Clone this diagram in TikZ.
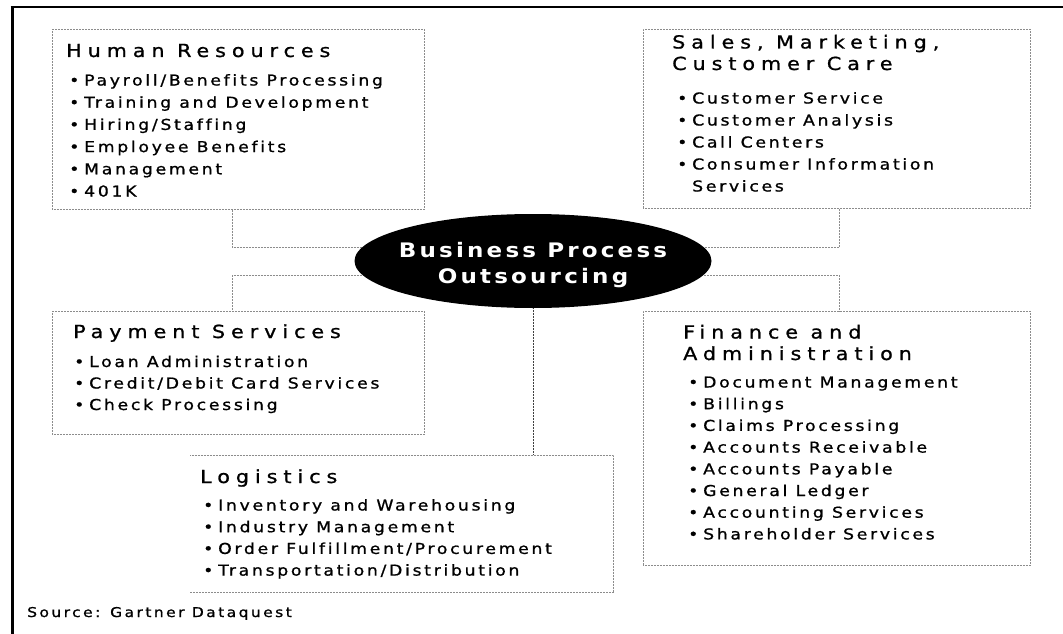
\documentclass[tikz,border=0pt]{standalone}
\usepackage{fontspec}
\usepackage{tikz}
\usetikzlibrary{shapes.geometric,backgrounds}
\setmainfont{DejaVu Sans}
\newfontfamily\headfont{DejaVu Sans}[LetterSpace=33,FakeStretch=1.15,FakeBold=1,Ligatures=NoCommon]
\newfontfamily\itemfont{DejaVu Sans}[LetterSpace=18,FakeStretch=1.15,FakeBold=1,Ligatures=NoCommon]
\newfontfamily\bpofont{DejaVu Sans Bold}[LetterSpace=16,FakeStretch=1.15]
\newcommand{\bul}{\makebox[15pt][l]{\textbullet}}
\newcommand{\ind}{\hspace*{15pt}}

\begin{document}
\begin{tikzpicture}[x=1pt,y=-1pt]
  \tikzstyle{area box}=[rectangle,draw=black!45,densely dotted,line width=0.5pt,inner sep=0,anchor=north west]
  \tikzstyle{head text}=[inner sep=0,anchor=base west,align=left,font=\headfont\fontsize{18}{21.5}\selectfont]
  \tikzstyle{item text}=[inner sep=0,anchor=base west,align=left,font=\itemfont\fontsize{15}{22}\selectfont]
  \tikzstyle{link line}=[draw=black!45,densely dotted,line width=0.5pt]
  \useasboundingbox (0,0) rectangle (1063,634);
  % frame
  \draw[line width=3pt] (12,634) -- (12,7.5);
  \draw[line width=2pt] (10.5,7.5) -- (1063,7.5);
  % areas
  \node[area box,minimum width=372pt,minimum height=180pt] (hr) at (52,29) {};
  \node[area box,minimum width=387pt,minimum height=179pt] (sales) at (643,29) {};
  \node[area box,minimum width=372pt,minimum height=123pt] (pay) at (52,311) {};
  \node[area box,minimum width=387pt,minimum height=254pt] (fin) at (643,311) {};
  \node[area box,draw=none,minimum width=423pt,minimum height=137pt] (logi) at (190,455) {};
  \draw[link line] (logi.north west) -- (logi.north east) -- (logi.south east) -- (logi.south west);
  % center
  \node[ellipse,fill=black,minimum width=357pt,minimum height=94pt,inner sep=0] (bpo) at (533,261) {};
  \node[text=white,align=center,inner sep=0,yshift=-4pt,
    font=\bpofont\fontsize{20}{26}\selectfont] (bpotext) at (bpo.center) {Business Process\\Outsourcing};
  \begin{scope}[on background layer]
    \draw[link line] (232,0 |- hr.south) |- (bpo.center |- 0,247);
    \draw[link line] (232,0 |- pay.north) |- (bpo.center |- 0,275);
    \draw[link line] (839,0 |- sales.south) |- (bpo.center |- 0,247);
    \draw[link line] (839,0 |- fin.north) |- (bpo.center |- 0,275);
    \draw[link line,draw=black!75] (bpo.south) -- (bpo.south |- logi.north);
  \end{scope}
  % texts (base = last line)
  \node[head text] (hrt) at (66,57) {Human Resources};
  \node[item text,font=\itemfont\fontsize{15}{22.2}\selectfont] (hri) at (69,196.5) {\bul Payroll/Benefits Processing\\
    \bul Training and Development\\\bul Hiring/Staffing\\\bul Employee Benefits\\\bul Management\\\bul 401K};
  \node[head text] (salest) at (672,70) {Sales, Marketing,\\Customer Care};
  \node[item text] (salesi) at (677,191.5) {\bul Customer Service\\\bul Customer Analysis\\
    \bul Call Centers\\\bul Consumer Information\\\ind Services};
  \node[head text] (payt) at (73,338) {Payment Services};
  \node[item text,font=\itemfont\fontsize{15}{21.5}\selectfont] (payi) at (74,410) {\bul Loan Administration\\
    \bul Credit/Debit Card Services\\\bul Check Processing};
  \node[head text] (fint) at (683,360) {Finance and\\Administration};
  \node[item text,font=\itemfont\fontsize{15}{21.7}\selectfont] (fini) at (688,539.4) {\bul Document Management\\
    \bul Billings\\\bul Claims Processing\\\bul Accounts Receivable\\\bul Accounts Payable\\\bul General Ledger\\
    \bul Accounting Services\\\bul Shareholder Services};
  \node[head text] (logit) at (200,483) {Logistics};
  \node[item text,font=\itemfont\fontsize{15}{21.7}\selectfont] (logii) at (203,575.6) {\bul Inventory and Warehousing\\
    \bul Industry Management\\\bul Order Fulfillment/Procurement\\\bul Transportation/Distribution};
  \node[inner sep=0,anchor=base west,font=\itemfont\fontsize{13.5}{16}\selectfont] (src) at (27,617) {Source: Gartner Dataquest};
\end{tikzpicture}
\end{document}
